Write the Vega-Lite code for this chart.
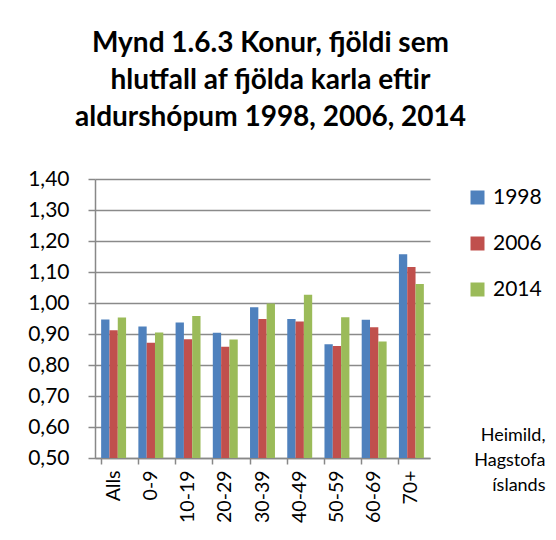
{
  "$schema": "https://vega.github.io/schema/vega-lite/v6.json",
  "autosize": "none",
  "width": 335,
  "height": 279,
  "padding": {"left": 95, "top": 179, "right": 126, "bottom": 82},
  "background": "white",
  "title": {
    "text": ["Mynd 1.6.3 Konur, fjöldi sem", "hlutfall af fjölda karla eftir", "aldurshópum 1998, 2006, 2014"],
    "anchor": "middle",
    "dx": 8,
    "offset": 36,
    "font": "Lato",
    "fontSize": 28,
    "fontWeight": "bold",
    "lineHeight": 37,
    "color": "#000000"
  },
  "data": {
    "values": [
      {"age": "Alls", "year": "1998", "value": 0.947},
      {"age": "Alls", "year": "2006", "value": 0.912},
      {"age": "Alls", "year": "2014", "value": 0.953},
      {"age": "0-9", "year": "1998", "value": 0.924},
      {"age": "0-9", "year": "2006", "value": 0.872},
      {"age": "0-9", "year": "2014", "value": 0.905},
      {"age": "10-19", "year": "1998", "value": 0.937},
      {"age": "10-19", "year": "2006", "value": 0.883},
      {"age": "10-19", "year": "2014", "value": 0.958},
      {"age": "20-29", "year": "1998", "value": 0.904},
      {"age": "20-29", "year": "2006", "value": 0.859},
      {"age": "20-29", "year": "2014", "value": 0.882},
      {"age": "30-39", "year": "1998", "value": 0.986},
      {"age": "30-39", "year": "2006", "value": 0.948},
      {"age": "30-39", "year": "2014", "value": 0.998},
      {"age": "40-49", "year": "1998", "value": 0.948},
      {"age": "40-49", "year": "2006", "value": 0.940},
      {"age": "40-49", "year": "2014", "value": 1.027},
      {"age": "50-59", "year": "1998", "value": 0.867},
      {"age": "50-59", "year": "2006", "value": 0.861},
      {"age": "50-59", "year": "2014", "value": 0.954},
      {"age": "60-69", "year": "1998", "value": 0.946},
      {"age": "60-69", "year": "2006", "value": 0.922},
      {"age": "60-69", "year": "2014", "value": 0.876},
      {"age": "70+", "year": "1998", "value": 1.157},
      {"age": "70+", "year": "2006", "value": 1.116},
      {"age": "70+", "year": "2014", "value": 1.061}
    ]
  },
  "mark": {"type": "bar"},
  "encoding": {
    "x": {
      "field": "age",
      "type": "nominal",
      "sort": null,
      "scale": {"paddingInner": 0.33, "paddingOuter": 0.165},
      "axis": {
        "title": ["Heimild,", "Hagstofa", "íslands"],
        "titleX": 450,
        "titleY": -18,
        "titleAlign": "right",
        "titleAnchor": null,
        "titleBaseline": "alphabetic",
        "titleFont": "Lato",
        "titleFontSize": 18,
        "titleFontWeight": "normal",
        "titleLineHeight": 25,
        "titleColor": "#000000",
        "labelAngle": -90,
        "labelFont": "Lato",
        "labelFontSize": 19.5,
        "labelColor": "#000000",
        "labelPadding": 6,
        "bandPosition": 0,
        "tickSize": 6,
        "tickColor": "#888888",
        "domainColor": "#888888",
        "domainWidth": 1.5,
        "tickWidth": 1.5
      }
    },
    "xOffset": {"field": "year", "type": "nominal", "scale": {"paddingInner": 0, "paddingOuter": 0}},
    "y": {
      "field": "value",
      "type": "quantitative",
      "scale": {"domain": [0.5, 1.4], "zero": false, "nice": false},
      "axis": {
        "title": null,
        "values": [0.5, 0.6, 0.7, 0.8, 0.9, 1.0, 1.1, 1.2, 1.3, 1.4],
        "labelExpr": "replace(format(datum.value, '.2f'), '.', ',')",
        "labelFont": "Lato",
        "labelFontSize": 21,
        "labelColor": "#000000",
        "labelPadding": 19,
        "tickSize": 7,
        "tickColor": "#888888",
        "tickWidth": 1.5,
        "domainColor": "#888888",
        "domainWidth": 1.5,
        "grid": true,
        "gridColor": "#8a8a8a",
        "gridWidth": 1.3
      }
    },
    "y2": {"datum": 0.5},
    "color": {
      "field": "year",
      "type": "nominal",
      "scale": {"domain": ["1998", "2006", "2014"], "range": ["#4F81BD", "#C0504D", "#9BBB59"]},
      "legend": {
        "title": null,
        "orient": "none",
        "legendX": 372,
        "legendY": 8,
        "symbolType": "square",
        "symbolSize": 196,
        "symbolStrokeWidth": 0,
        "labelFont": "Lato",
        "labelFontSize": 21,
        "labelColor": "#000000",
        "labelOffset": 5,
        "rowPadding": 24
      }
    }
  },
  "config": {"view": {"stroke": null}, "axis": {"labelFlush": false}}
}
